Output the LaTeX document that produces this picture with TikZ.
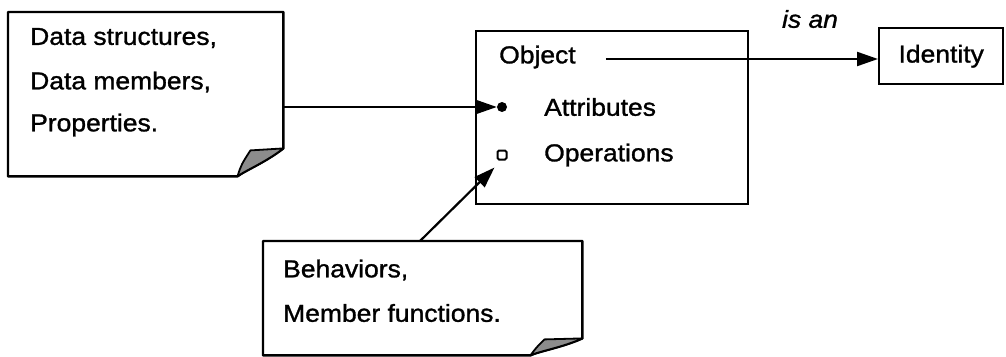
\documentclass[tikz,border=0pt]{standalone}
\usepackage{fontspec}
\setmainfont{Liberation Sans}[FakeStretch=1.08, FakeBold=1.2]
\usetikzlibrary{arrows.meta}
\begin{document}
\begin{tikzpicture}[x=1pt,y=-1pt,
  every node/.style={font=\fontsize{24.5}{28}\selectfont, inner sep=0pt},
  frame/.style={draw=black, line width=2.4pt},
  txt/.style={anchor=west},
  arr/.style={draw=black, line width=2.2pt, -{Triangle[length=21pt,width=14pt]}},
  foldfill/.style={fill=black!45, draw=black, line width=1.8pt, line join=round},
]
\useasboundingbox (0,0) rectangle (1006,356);

% ---- note: data side ----
\node[minimum width=275pt, minimum height=164pt, anchor=north west] (data) at (8,12) {};
\draw[frame, line join=round] (data.north west) -- (data.north east) -- ([yshift=28pt]data.south east)
  .. controls ([xshift=-18pt,yshift=14pt]data.south east) and ([xshift=-38pt,yshift=6pt]data.south east) .. ([xshift=-46pt]data.south east)
  -- (data.south west) -- cycle;
\draw[foldfill] ([xshift=-46pt]data.south east)
  .. controls ([xshift=-42pt,yshift=12pt]data.south east) .. ([xshift=-33pt,yshift=26pt]data.south east)
  -- ([yshift=28pt]data.south east)
  .. controls ([xshift=-18pt,yshift=14pt]data.south east) and ([xshift=-38pt,yshift=6pt]data.south east) .. ([xshift=-46pt]data.south east) -- cycle;
\node[txt] (d1) at (30,38) {Data structures,};
\node[txt] (d2) at (30,82) {Data members,};
\node[txt] (d3) at (30,125) {Properties.};

% ---- object box ----
\node[frame, minimum width=272pt, minimum height=173pt, anchor=north west] (obj) at (475,30) {};
\node[txt] (objlabel) at (499,57) {Object};
\node[circle, fill=black, minimum size=10pt] (attrdot) at (502,107) {};
\node[txt] (attr) at (544,107) {Attributes};
\node[draw=black, line width=2pt, minimum size=9pt, rounded corners=1.5pt] (opsq) at (502,155) {};
\node[txt] (ops) at (544,155) {Operations};

% ---- identity box ----
\node[frame, minimum width=124pt, minimum height=56pt, anchor=north west] (ident) at (878,27) {Identity};
\node[font=\fontsize{24.5}{28}\selectfont\itshape] (isan) at (810,19) {is an};

% ---- note: behaviour side ----
\node[minimum width=319pt, minimum height=114pt, anchor=north west] (beh) at (263,241) {};
\draw[frame, line join=round] (beh.north west) -- (beh.north east) -- ([yshift=17pt]beh.south east)
  .. controls ([xshift=-20pt,yshift=8pt]beh.south east) and ([xshift=-44pt,yshift=4pt]beh.south east) .. ([xshift=-52pt]beh.south east)
  -- (beh.south west) -- cycle;
\draw[foldfill] ([xshift=-52pt]beh.south east)
  .. controls ([xshift=-46pt,yshift=8pt]beh.south east) .. ([xshift=-38pt,yshift=16pt]beh.south east)
  -- ([yshift=17pt]beh.south east)
  .. controls ([xshift=-20pt,yshift=8pt]beh.south east) and ([xshift=-44pt,yshift=4pt]beh.south east) .. ([xshift=-52pt]beh.south east) -- cycle;
\node[txt] (b1) at (283,270) {Behaviors,};
\node[txt] (b2) at (283,313) {Member functions.};

% ---- connectors ----
\draw[arr] (data.east |- attrdot) -- (attrdot.west);
\coordinate (objtail) at ([xshift=30pt,yshift=-2pt]objlabel.east);
\draw[arr] (objtail) -- (ident.west |- objtail);
\coordinate (behtail) at (420,241);
\coordinate (optip) at ([xshift=-2pt,yshift=-7pt]opsq.south west);
\draw[arr] (behtail) -- (optip);
\end{tikzpicture}
\end{document}
